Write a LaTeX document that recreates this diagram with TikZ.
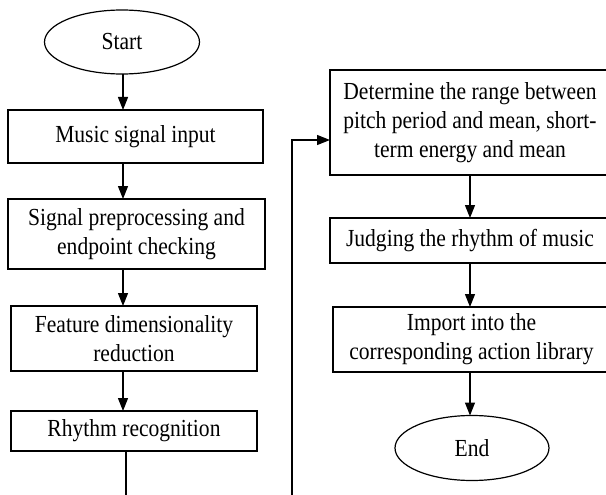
\documentclass[tikz,border=0pt]{standalone}
\usepackage{fontspec}
\setmainfont{Liberation Serif}[FakeStretch=0.88]
\usetikzlibrary{arrows.meta,shapes.geometric}
\begin{document}
\fontsize{24.5pt}{29pt}\selectfont
\begin{tikzpicture}[x=1pt,y=-1pt,
  every node/.style={inner sep=0pt,outer sep=0pt},
  procbox/.style={draw,rectangle,line width=1.2pt,align=center},
  term/.style={draw,ellipse,line width=1.2pt},
  flow/.style={line width=1.2pt,-{Triangle[width=10pt,length=13pt]}},
  plain/.style={line width=1.2pt}]
\useasboundingbox (0,0) rectangle (606,495);
\clip (0,0) rectangle (606,495);
% left column
\node[term,minimum width=155pt,minimum height=64pt] (start) at (122,42) {Start};
\node[procbox,minimum width=255pt,minimum height=53pt] (music) at (135.5,136.5) {Music signal input};
\node[procbox,minimum width=257pt,minimum height=70pt] (prep) at (136.5,234) {Signal preprocessing and\\endpoint checking};
\node[procbox,minimum width=246pt,minimum height=65pt] (feat) at (134,338.5) {Feature dimensionality\\reduction};
\node[procbox,minimum width=246pt,minimum height=40pt] (rhy) at (134,431) {Rhythm recognition};
% right column
\node[procbox,minimum width=280pt,minimum height=105pt] (det) at (470,122.5) {Determine the range between\\pitch period and mean, short-\\term energy and mean};
\node[procbox,minimum width=280pt,minimum height=45pt] (judge) at (470,240.5) {Judging the rhythm of music};
\node[procbox,minimum width=277pt,minimum height=65pt] (imp) at (471.5,339.5) {Import into the\\corresponding action library};
\node[term,minimum width=154pt,minimum height=65pt] (end) at (472,448) {End};
% connectors
\coordinate (axisL) at (123,0);
\coordinate (axisR) at (470,0);
\coordinate (cutL) at (126,495);
\coordinate (cutR) at (292,495);
\coordinate (loopy) at (0,140);
\draw[flow] (start.south -| axisL) -- (music.north -| axisL);
\draw[flow] (music.south -| axisL) -- (prep.north -| axisL);
\draw[flow] (prep.south -| axisL) -- (feat.north -| axisL);
\draw[flow] (feat.south -| axisL) -- (rhy.north -| axisL);
\draw[plain] (rhy.south -| cutL) -- (cutL);
\draw[flow] (cutR) |- (det.west |- loopy);
\draw[flow] (det.south -| axisR) -- (judge.north -| axisR);
\draw[flow] (judge.south -| axisR) -- (imp.north -| axisR);
\draw[flow] (imp.south -| axisR) -- (end.north -| axisR);
\end{tikzpicture}
\end{document}
